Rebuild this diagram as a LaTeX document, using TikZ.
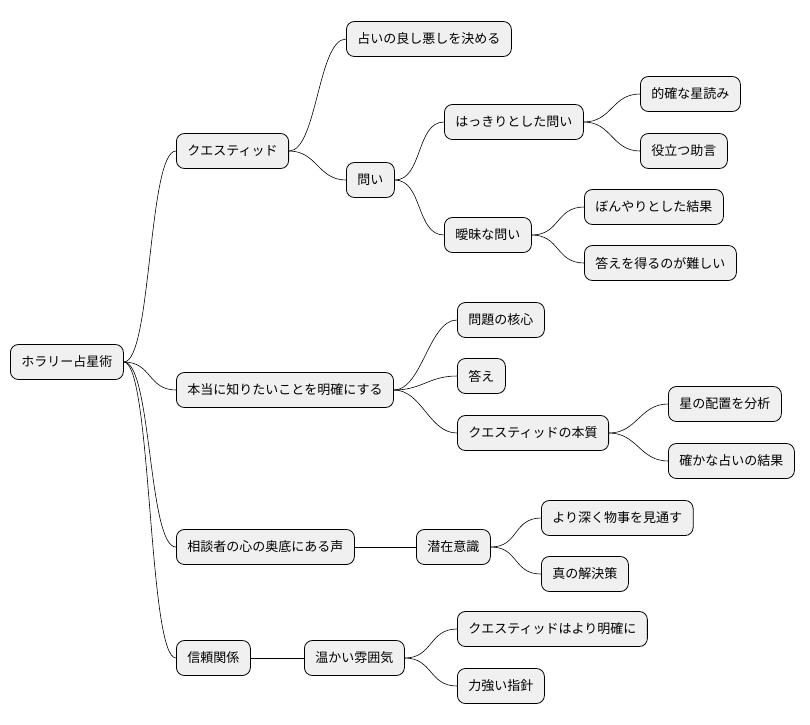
\documentclass[tikz,border=0pt]{standalone}
\usepackage{fontspec}
\newfontfamily\cjk{Noto Sans CJK JP}
\begin{document}
\begin{tikzpicture}[x=1pt, y=-1pt,
    topic/.style={draw=black, fill=black!6, rounded corners=8pt, line width=0.8pt,
      anchor=west, inner xsep=11pt, minimum height=35pt, font=\cjk\fontsize{13}{15}\selectfont},
    branch/.style={line width=0.6pt}]
    \useasboundingbox (0,0) rectangle (810,724);
    % root and first level
    \node[topic] (root) at (10,362) {ホラリー占星術};
    \node[topic] (qd) at (176,151) {クエスティッド};
    \node[topic] (clear) at (176,390) {本当に知りたいことを明確にする};
    \node[topic] (voice) at (176,547) {相談者の心の奥底にある声};
    \node[topic] (trust) at (176,658) {信頼関係};

    % second level
    \node[topic] (good) at (346,39) {占いの良し悪しを決める};
    \node[topic] (ask) at (346,180) {問い};
    \node[topic] (core) at (457,320) {問題の核心};
    \node[topic] (ans) at (457,376) {答え};
    \node[topic] (ess) at (457,433) {クエスティッドの本質};
    \node[topic] (sub) at (416,547) {潜在意識};
    \node[topic] (warm) at (304,658) {温かい雰囲気};

    % third level
    \node[topic] (sharp) at (444,122) {はっきりとした問い};
    \node[topic] (vague) at (444,235) {曖昧な問い};
    \node[topic] (read) at (640,94) {的確な星読み};
    \node[topic] (help) at (640,151) {役立つ助言};
    \node[topic] (dim) at (584,207) {ぼんやりとした結果};
    \node[topic] (hard) at (584,263) {答えを得るのが難しい};
    \node[topic] (star) at (668,404) {星の配置を分析};
    \node[topic] (sure) at (668,461) {確かな占いの結果};
    \node[topic] (deep) at (541,518) {より深く物事を見通す};
    \node[topic] (sol) at (541,574) {真の解決策};
    \node[topic] (qclr) at (457,629) {クエスティッドはより明確に};
    \node[topic] (guide) at (457,686) {力強い指針};

    % connectors
    \foreach \a/\b in {root/qd, root/clear, root/voice, root/trust,
        qd/good, qd/ask, ask/sharp, ask/vague, sharp/read, sharp/help,
        vague/dim, vague/hard, clear/core, clear/ans, clear/ess,
        ess/star, ess/sure, voice/sub, sub/deep, sub/sol, trust/warm,
        warm/qclr, warm/guide}
      \draw[branch] (\a.east) .. controls +(28,0) and +(-28,0) .. (\b.west);
\end{tikzpicture}
\end{document}
